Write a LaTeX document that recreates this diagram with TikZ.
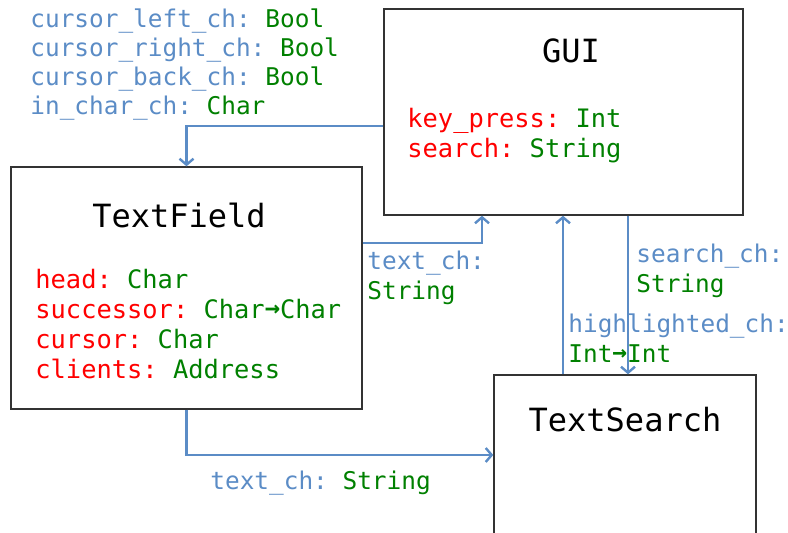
\documentclass[tikz,border=0pt]{standalone}
\usepackage{fontspec}
\setmonofont{DejaVu Sans Mono}
\usetikzlibrary{arrows.meta, positioning}

\definecolor{chanblue}{RGB}{91,140,198}
\definecolor{typegreen}{RGB}{0,128,0}
\definecolor{fieldred}{RGB}{255,0,0}

\newcommand{\chan}[2]{\textcolor{chanblue}{#1:} \textcolor{typegreen}{#2}}
\newcommand{\attr}[2]{\textcolor{fieldred}{#1:} \textcolor{typegreen}{#2}}
\newcommand{\fnto}{\raisebox{0.15ex}{\bfseries →}}

\begin{document}
\begin{tikzpicture}[x=0.5pt, y=-0.5pt,
    process/.style={draw=black!80, line width=0.7pt, inner sep=0pt},
    title/.style={font=\ttfamily\fontsize{16}{19}\selectfont, inner sep=0pt, anchor=north},
    info/.style={font=\ttfamily\fontsize{12.2}{15}\selectfont, align=left, inner sep=0pt, anchor=north west},
    field/.style={info, font=\ttfamily\fontsize{12.7}{15}\selectfont},
    link/.style={draw=chanblue, line width=1.2pt, -{Straight Barb[length=3pt, width=7pt]}}]
  \useasboundingbox (0,0) rectangle (788,533);
  \clip (0,0) rectangle (788,533);

  % the three processes
  \node[process, minimum width=179.5pt, minimum height=103pt] (gui) at (563.5,112) {};
  \node[process, minimum width=175.5pt, minimum height=121pt] (field) at (186.5,288) {};
  \node[process, minimum width=131pt, minimum height=92.5pt] (search) at (625,467.5) {};

  \node[title] (guiT) at (571,38) {GUI};
  \node[title] (fieldT) at (179,203) {TextField};
  \node[title] (searchT) at (625,407) {TextSearch};

  \node[field] (guiA) at (407,108) {\attr{key\_press}{Int}\\ \attr{search}{String}};
  \node[field] (fieldA) at (35,269) {\attr{head}{Char}\\ \attr{successor}{Char\fnto Char}\\
    \attr{cursor}{Char}\\ \attr{clients}{Address}};

  % channels
  \draw[link] ([yshift=-7pt]gui.west) -| (field.north);
  \draw[link] ([yshift=22.5pt]field.east) -| ([xshift=-40.75pt]gui.south);
  \draw[link] ([xshift=-31pt]search.north) coordinate (hl) -- (hl |- gui.south);
  \draw[link] ([xshift=32.25pt]gui.south) coordinate (sc) -- (sc |- search.north);
  \draw[link] (field.south) |- ([yshift=6.25pt]search.west);

  \node[info, font=\ttfamily\fontsize{12.2}{14.65}\selectfont] (cursorL) at (30,8)
    {\chan{cursor\_left\_ch}{Bool}\\ \chan{cursor\_right\_ch}{Bool}\\
     \chan{cursor\_back\_ch}{Bool}\\ \chan{in\_char\_ch}{Char}};
  \node[info] (textL) at (367,251) {\textcolor{chanblue}{text\_ch:}\\ \textcolor{typegreen}{String}};
  \node[info] (searchL) at (636,244) {\textcolor{chanblue}{search\_ch:}\\ \textcolor{typegreen}{String}};
  \node[info] (hlL) at (568,313) {\textcolor{chanblue}{highlighted\_ch:}\\ \textcolor{typegreen}{Int\fnto Int}};
  \node[info] (text2L) at (210,471) {\chan{text\_ch}{String}};
\end{tikzpicture}
\end{document}
